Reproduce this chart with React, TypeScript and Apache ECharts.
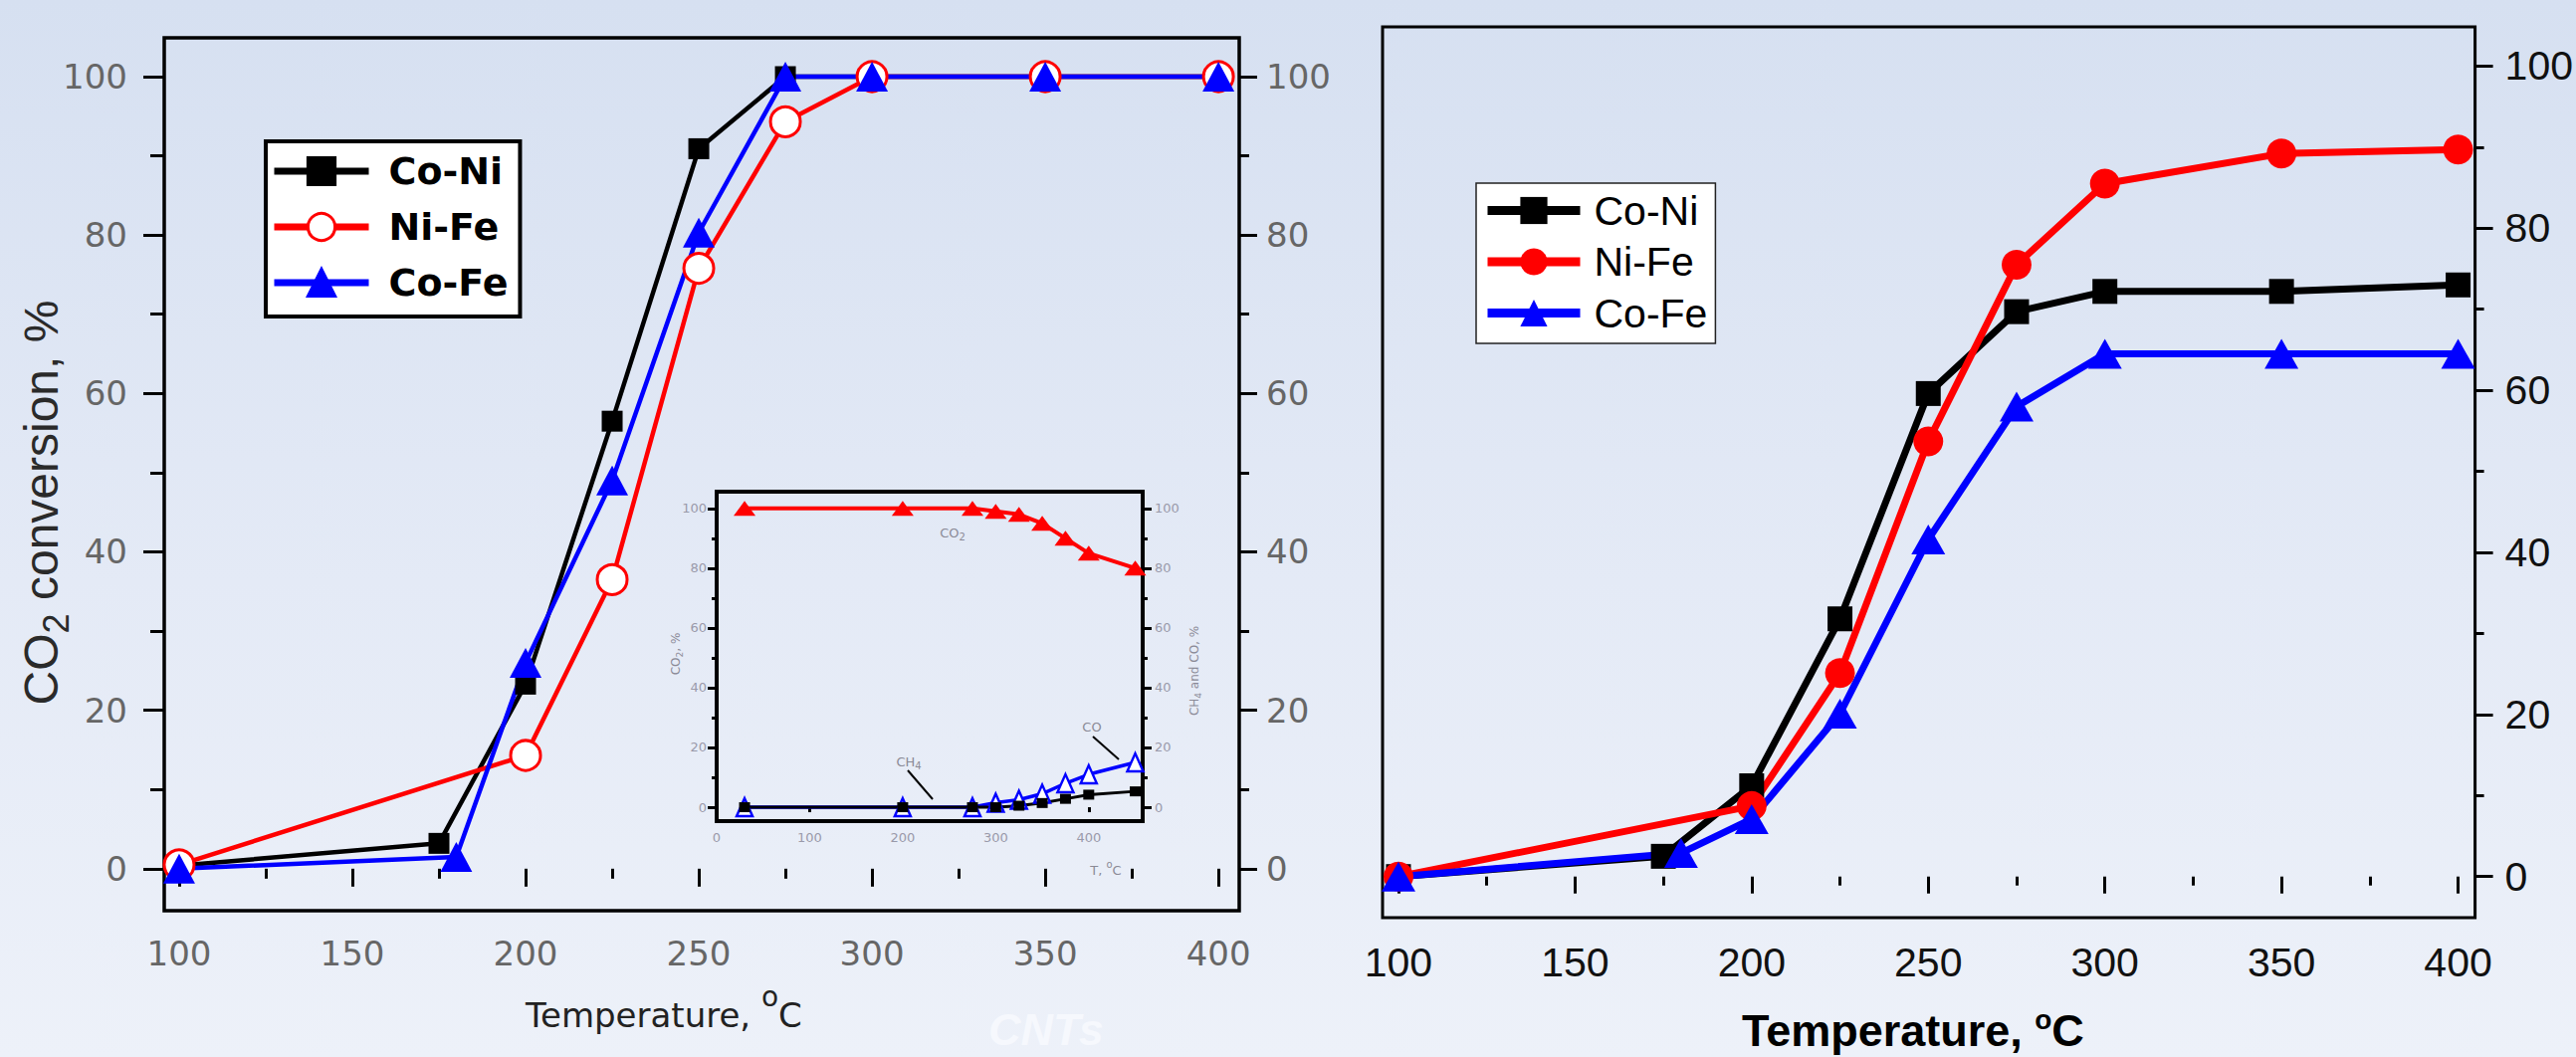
import React, { useEffect, useRef } from 'react';
import * as echarts from 'echarts';

// ---------- tick values ----------
const tempTicks = [100, 150, 200, 250, 300, 350, 400];
const tempMinor = [125, 175, 225, 275, 325, 375];
const pctTicks = [0, 20, 40, 60, 80, 100];
const pctMinor = [10, 30, 50, 70, 90];
const insetTempTicks = [0, 100, 200, 300, 400];

// ---------- left panel (main) ----------
const leftCoNiT = [100, 175, 200, 225, 250, 275, 300, 350, 400];
const leftCoNiV = [0.4, 3.2, 23.3, 56.5, 90.9, 100, 100, 100, 100];
const leftNiFeT = [100, 200, 225, 250, 275, 300, 350, 400];
const leftNiFeV = [0.5, 14.3, 36.5, 75.8, 94.3, 100, 100, 100];
const leftCoFeT = [100, 180, 200, 225, 250, 275, 300, 350, 400];
const leftCoFeV = [0, 1.5, 26, 49, 80.3, 100, 100, 100, 100];

// ---------- inset ----------
const insetT = [30, 200, 275, 300, 325, 350, 375, 400, 450];
const insetCO2 = [100, 100, 100, 99, 98, 95, 90, 85, 80];
const insetCH4 = [0, 0, 0, 0, 0.5, 1.4, 2.8, 4.2, 5.3];
const insetCO = [0, 0, 0, 1.5, 2.5, 4.5, 8, 11, 15];

// ---------- right panel ----------
const rightCoNiT = [100, 175, 200, 225, 250, 275, 300, 350, 400];
const rightCoNiV = [0, 2.5, 11.2, 31.8, 59.6, 69.7, 72.2, 72.2, 73.0];
const rightNiFeT = [100, 200, 225, 250, 275, 300, 350, 400];
const rightNiFeV = [0, 8.7, 25.1, 53.7, 75.5, 85.5, 89.2, 89.7];
const rightCoFeT = [100, 180, 200, 225, 250, 275, 300, 350, 400];
const rightCoFeV = [0, 2.9, 7.1, 20.1, 41.6, 58.0, 64.5, 64.5, 64.5];

const seriesNames = ['Co-Ni', 'Ni-Fe', 'Co-Fe'];
const rightSuffix = ' (b)';

const zip = (xs: number[], ys: number[]) => xs.map((x, i) => [x, ys[i]]);

const DEJAVU = '"DejaVu Sans", sans-serif';
const ARIAL = '"Liberation Sans", Arial, sans-serif';

// axis ranges
const L = { xmin: 95.7, xmax: 406, ymin: -5.3, ymax: 104.9 };
const I = { xmin: 0, xmax: 458, ymin: -4.65, ymax: 105.6 };
const R = { xmin: 95.5, xmax: 404.8, ymin: -5.07, ymax: 104.84 };

function xAx(gridIndex: number, r: any, ticks: number[], len: number, w: number, label?: any) {
  return {
    type: 'value', gridIndex, min: r.xmin, max: r.xmax, position: 'bottom',
    axisLine: { show: false }, splitLine: { show: false },
    axisTick: { show: true, customValues: ticks, length: len, lineStyle: { color: '#000', width: w } },
    axisLabel: label ? { show: true, customValues: ticks, ...label } : { show: false },
  };
}
function yAx(gridIndex: number, r: any, pos: string, ticks: number[], len: number, w: number, label?: any) {
  return {
    type: 'value', gridIndex, min: r.ymin, max: r.ymax, position: pos,
    axisLine: { show: false }, splitLine: { show: false },
    axisTick: { show: true, customValues: ticks, length: len, lineStyle: { color: '#000', width: w } },
    axisLabel: label ? { show: true, customValues: ticks, ...label } : { show: false },
  };
}

function txt(x: number, y: number, text: string, style: any, extra: any = {}) {
  const align = style.align || 'left';
  const va = style.verticalAlign || 'middle';
  return {
    type: 'text', x, y, silent: true, ...extra,
    style: { text, ...style, align, verticalAlign: va, textAlign: align, textVerticalAlign: va },
  };
}

function buildOption() {
  const leftLbl = { fontFamily: DEJAVU, fontSize: 34, color: '#666' };
  const insetLbl = { fontFamily: DEJAVU, fontSize: 13, color: '#9a9aaa' };
  const rightLbl = { fontFamily: ARIAL, fontSize: 41, color: '#111' };

  const xAxis = [
    xAx(0, L, tempTicks, 18, 3, { ...leftLbl, margin: 26 }),
    xAx(0, L, tempMinor, 10, 3),
    xAx(1, I, insetTempTicks, 5, 3, { ...insetLbl, margin: 10 }),
    xAx(2, R, tempTicks, 17, 3, { ...rightLbl, margin: 24 }),
    xAx(2, R, tempMinor, 9, 3),
  ];
  const yAxis = [
    yAx(0, L, 'left', pctTicks, 21, 3, { ...leftLbl, margin: 37 }),
    yAx(0, L, 'left', pctMinor, 14, 3),
    yAx(0, L, 'right', pctTicks, 18, 3, { ...leftLbl, margin: 27 }),
    yAx(0, L, 'right', pctMinor, 10, 3),
    yAx(1, I, 'left', pctTicks, 9, 3, { ...insetLbl, margin: 10 }),
    yAx(1, I, 'left', pctMinor, 5, 3),
    yAx(1, I, 'right', pctTicks, 9, 3, { ...insetLbl, margin: 12 }),
    yAx(1, I, 'right', pctMinor, 5, 3),
    yAx(2, R, 'right', pctTicks, 18, 3, { ...rightLbl, margin: 30 }),
    yAx(2, R, 'right', pctMinor, 9, 3),
  ];

  const grid = [
    { left: 165, top: 38, width: 1080, height: 877, show: true, borderColor: '#000', borderWidth: 3.5, backgroundColor: 'transparent', containLabel: false },
    { left: 720, top: 494, width: 428, height: 331, show: true, borderColor: '#000', borderWidth: 4, backgroundColor: 'transparent', containLabel: false },
    { left: 1389, top: 27, width: 1099, height: 895, show: true, borderColor: '#000', borderWidth: 3, backgroundColor: 'transparent', containLabel: false },
  ];

  const base = { type: 'line', animation: false, silent: true, emphasis: { disabled: true }, z: 3 };

  const series: any[] = [
    // left main
    { ...base, name: 'Co-Ni', xAxisIndex: 0, yAxisIndex: 0, data: zip(leftCoNiT, leftCoNiV),
      symbol: 'rect', symbolSize: 21, lineStyle: { color: '#000', width: 4.5 },
      itemStyle: { color: '#000', borderColor: '#000', borderWidth: 0 } },
    { ...base, name: 'Ni-Fe', xAxisIndex: 0, yAxisIndex: 0, data: zip(leftNiFeT, leftNiFeV),
      symbol: 'circle', symbolSize: 30, lineStyle: { color: '#ff0000', width: 4.5 },
      itemStyle: { color: '#ffffff', borderColor: '#ff0000', borderWidth: 3 } },
    { ...base, name: 'Co-Fe', xAxisIndex: 0, yAxisIndex: 0, data: zip(leftCoFeT, leftCoFeV),
      symbol: 'triangle', symbolSize: [32, 30], lineStyle: { color: '#0000ff', width: 4.5 },
      itemStyle: { color: '#0000ff', borderColor: '#0000ff', borderWidth: 0 } },
    // inset
    { ...base, name: 'CO (inset)', xAxisIndex: 2, yAxisIndex: 4, data: zip(insetT, insetCO),
      symbol: 'triangle', symbolSize: [16, 18], lineStyle: { color: '#0000ff', width: 3.5 },
      itemStyle: { color: '#ffffff', borderColor: '#0000ff', borderWidth: 2.5 } },
    { ...base, name: 'CH4 (inset)', xAxisIndex: 2, yAxisIndex: 4, data: zip(insetT, insetCH4),
      symbol: 'rect', symbolSize: [11, 10], lineStyle: { color: '#000', width: 3 },
      itemStyle: { color: '#000', borderColor: '#000', borderWidth: 0 } },
    { ...base, name: 'CO2 (inset)', xAxisIndex: 2, yAxisIndex: 4, data: zip(insetT, insetCO2),
      symbol: 'triangle', symbolSize: [22, 15], lineStyle: { color: '#ff0000', width: 4 },
      itemStyle: { color: '#ff0000', borderColor: '#ff0000', borderWidth: 0 } },
    // right panel
    { ...base, name: 'Co-Ni' + rightSuffix, xAxisIndex: 3, yAxisIndex: 8, data: zip(rightCoNiT, rightCoNiV),
      symbol: 'rect', symbolSize: 25, lineStyle: { color: '#000', width: 7 },
      itemStyle: { color: '#000', borderColor: '#000', borderWidth: 0 } },
    { ...base, name: 'Ni-Fe' + rightSuffix, xAxisIndex: 3, yAxisIndex: 8, data: zip(rightNiFeT, rightNiFeV),
      symbol: 'circle', symbolSize: 30, lineStyle: { color: '#ff0000', width: 7 },
      itemStyle: { color: '#ff0000', borderColor: '#ff0000', borderWidth: 0 } },
    { ...base, name: 'Co-Fe' + rightSuffix, xAxisIndex: 3, yAxisIndex: 8, data: zip(rightCoFeT, rightCoFeV),
      symbol: 'triangle', symbolSize: [34, 30], lineStyle: { color: '#0000ff', width: 7 },
      itemStyle: { color: '#0000ff', borderColor: '#0000ff', borderWidth: 0 } },
  ];

  const legend = [
    {
      id: 'legLeft', data: seriesNames, orient: 'vertical', left: 267, top: 142,
      itemWidth: 95, itemHeight: 34, itemGap: 18, padding: [11, 12, 15, 5],
      backgroundColor: '#ffffff', borderColor: '#000', borderWidth: 4, borderRadius: 0,
      selectedMode: false,
      textStyle: { fontFamily: DEJAVU, fontWeight: 'bold', fontSize: 38, color: '#000', padding: [0, 0, 0, 15] },
      lineStyle: { width: 7 }, itemStyle: { borderWidth: 3 },
    },
    {
      id: 'legRight', data: seriesNames.map((n) => n + rightSuffix), orient: 'vertical', left: 1483, top: 184,
      itemWidth: 93, itemHeight: 34, itemGap: 10.5, padding: [7, 8, 10, 7],
      backgroundColor: '#ffffff', borderColor: '#222', borderWidth: 1.5, borderRadius: 0,
      selectedMode: false,
      formatter: (n: string) => n.replace(rightSuffix, ''),
      textStyle: { fontFamily: ARIAL, fontSize: 41, color: '#000', padding: [0, 0, 0, 9] },
      lineStyle: { width: 9 }, itemStyle: { borderWidth: 0 },
    },
  ];

  const graphic = [
    // left y title
    txt(41, 505, 'CO{s|2} conversion, %', {
      fontFamily: ARIAL, fontSize: 48, fill: '#2a2a2a', align: 'center',
      rich: { s: { fontFamily: ARIAL, fontSize: 36, fill: '#2a2a2a', padding: [30, 0, 0, 0] } },
    }, { rotation: Math.PI / 2 }),
    // left x title
    txt(528, 1020, 'Temperature, {u|o}C', {
      fontFamily: DEJAVU, fontSize: 34, fill: '#222',
      rich: { u: { fontFamily: DEJAVU, fontSize: 28, fill: '#222', padding: [0, 0, 38, 0] } },
    }),
    // CNTs watermark
    txt(993, 1034, 'CNTs', { fontFamily: ARIAL, fontSize: 45, fontWeight: 'bold', fontStyle: 'italic', fill: '#f6f8fd' }),
    // right x title (anchored at its bottom so the box stays inside the page)
    txt(1750, 1060, 'Temperature, {u|o}C', {
      fontFamily: ARIAL, fontSize: 45, fontWeight: 'bold', fill: '#000', verticalAlign: 'bottom',
      rich: { u: { fontFamily: ARIAL, fontSize: 28, fontWeight: 'bold', fill: '#000', padding: [0, 0, 22, 0] } },
    }),
    // inset annotations
    txt(957, 535, 'CO{s|2}', {
      fontFamily: DEJAVU, fontSize: 13, fill: '#8a8a96', align: 'center',
      rich: { s: { fontFamily: DEJAVU, fontSize: 10, fill: '#8a8a96', padding: [8, 0, 0, 0] } },
    }),
    txt(913, 765, 'CH{s|4}', {
      fontFamily: DEJAVU, fontSize: 13, fill: '#8a8a96', align: 'center',
      rich: { s: { fontFamily: DEJAVU, fontSize: 10, fill: '#8a8a96', padding: [8, 0, 0, 0] } },
    }),
    txt(1097, 730, 'CO', { fontFamily: DEJAVU, fontSize: 13, fill: '#8a8a96', align: 'center' }),
    { type: 'line', silent: true, shape: { x1: 912, y1: 774, x2: 937, y2: 803 }, style: { stroke: '#000', lineWidth: 2 } },
    { type: 'line', silent: true, shape: { x1: 1098, y1: 740, x2: 1124, y2: 763 }, style: { stroke: '#000', lineWidth: 2 } },
    // inset axis names
    txt(679, 657, 'CO{s|2}, %', {
      fontFamily: DEJAVU, fontSize: 12, fill: '#8a8a96', align: 'center',
      rich: { s: { fontFamily: DEJAVU, fontSize: 9, fill: '#8a8a96', padding: [7, 0, 0, 0] } },
    }, { rotation: Math.PI / 2 }),
    txt(1200, 674, 'CH{s|4} and CO, %', {
      fontFamily: DEJAVU, fontSize: 12, fill: '#8a8a96', align: 'center',
      rich: { s: { fontFamily: DEJAVU, fontSize: 9, fill: '#8a8a96', padding: [7, 0, 0, 0] } },
    }, { rotation: Math.PI / 2 }),
    txt(1111, 874, 'T, {u|o}C', {
      fontFamily: DEJAVU, fontSize: 13, fill: '#8a8a96', align: 'center',
      rich: { u: { fontFamily: DEJAVU, fontSize: 10, fill: '#8a8a96', padding: [0, 0, 12, 0] } },
    }),
  ];

  return {
    animation: false,
    backgroundColor: 'transparent',
    grid, xAxis, yAxis, series, legend, graphic,
  };
}

export default function App() {
  const ref = useRef<HTMLDivElement>(null);
  useEffect(() => {
    if (!ref.current) return;
    const chart = echarts.init(ref.current, null, { renderer: 'svg' });
    chart.setOption(buildOption() as any);
    return () => chart.dispose();
  }, []);
  return (
    <div
      ref={ref}
      style={{
        position: 'absolute', left: 0, top: 0, width: 2588, height: 1062,
        background: 'linear-gradient(180deg, #d6e0f1 0%, #e4eaf6 55%, #edf1f9 100%)',
      }}
    />
  );
}
